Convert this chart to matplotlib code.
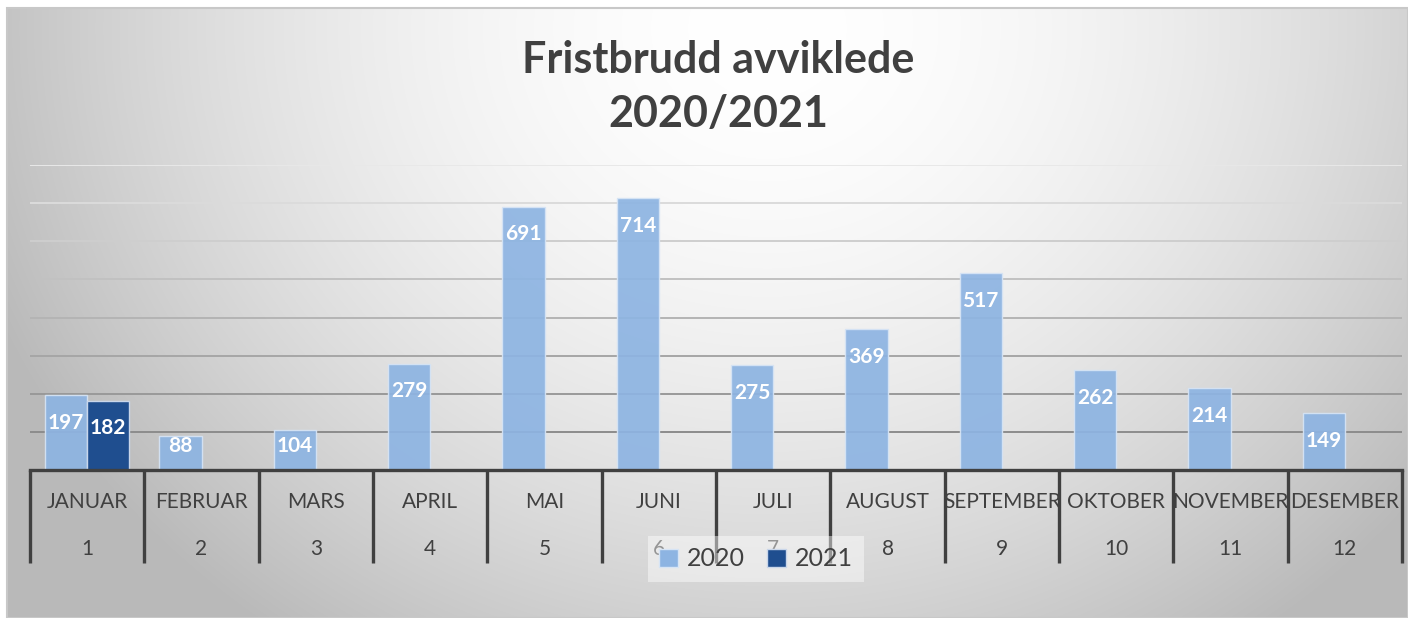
import matplotlib.pyplot as plt
import numpy as np
from matplotlib.patches import Rectangle, Patch

plt.rcParams['font.family'] = ['Lato', 'DejaVu Sans']

months = ['JANUAR', 'FEBRUAR', 'MARS', 'APRIL', 'MAI', 'JUNI', 'JULI',
          'AUGUST', 'SEPTEMBER', 'OKTOBER', 'NOVEMBER', 'DESEMBER']
month_nums = ['1', '2', '3', '4', '5', '6', '7', '8', '9', '10', '11', '12']
values_2020 = [197, 88, 104, 279, 691, 714, 275, 369, 517, 262, 214, 149]
values_2021 = [182]
grid_values = [100, 200, 300, 400, 500, 600, 700, 800]

c2020 = '#8DB4E2'
c2021 = '#1F4E8F'
dark = '#404040'

W, H = 1408, 618
fig = plt.figure(figsize=(W / 100, H / 100), dpi=100)
fig.patch.set_facecolor('white')

# background panel with soft radial gradient
bg = fig.add_axes([7 / W, 0, 1401 / W, 610 / H])
yy, xx = np.mgrid[0:610, 0:1401]
t = np.sqrt(((xx - 760) / 760.0) ** 2 + ((yy - 20) / 680.0) ** 2)
shade = 1.0 - 0.23 * np.clip(t, 0, 1.1) ** 1.8
img = np.dstack([shade, shade, shade])
bg.imshow(img, aspect='auto', extent=(0, 1, 0, 1), origin='upper')
bg.set_xlim(0, 1)
bg.set_ylim(0, 1)
bg.axis('off')
bg.add_patch(Rectangle((0, 0), 1, 1, transform=bg.transAxes, fill=False,
                       edgecolor='#c8c8c8', linewidth=1.5, clip_on=False))

ax = fig.add_axes([30 / W, 1 - 470 / H, 1372 / W, 305 / H])
ax.patch.set_alpha(0)
ax.set_xlim(0, 12)
ax.set_ylim(0, 800)
for s in ax.spines.values():
    s.set_visible(False)
ax.set_xticks([])
ax.set_yticks([])

for i, g in enumerate(grid_values):
    shade_g = 0.55 + 0.36 * i / (len(grid_values) - 1)
    ax.axhline(g, color=str(shade_g), linewidth=1.4, zorder=1)

x = np.arange(12) + 0.5
w = 0.37
ax.bar(x - w / 2, values_2020, w, color=c2020, alpha=0.92,
       edgecolor='#d6e4f5', linewidth=1, zorder=2)
ax.bar(x[:len(values_2021)] + w / 2, values_2021, w, color=c2021,
       edgecolor='#c9d6ea', linewidth=1, zorder=2)

def label_y(v):
    return max(v - 73, 63)

for xi, v in zip(x - w / 2, values_2020):
    ax.text(xi, label_y(v), str(v), ha='center', va='center', color='white',
            fontsize=15, fontweight='bold', zorder=3)
for xi, v in zip(x[:len(values_2021)] + w / 2, values_2021):
    ax.text(xi, label_y(v), str(v), ha='center', va='center', color='white',
            fontsize=15, fontweight='bold', zorder=3)

# multi-level category axis
ax.axhline(0, color=dark, linewidth=2.4, zorder=4, clip_on=False)
tr = ax.get_xaxis_transform()
for k in range(13):
    ax.plot([k, k], [0, -93 / 305], color=dark, linewidth=2.4, transform=tr,
            clip_on=False, zorder=4, solid_capstyle='butt')
for xi, m, n in zip(x, months, month_nums):
    ax.text(xi, -31.5 / 305, m, transform=tr, ha='center', va='center',
            fontsize=15, color=dark)
    ax.text(xi, -79 / 305, n, transform=tr, ha='center', va='center',
            fontsize=15, color=dark)

# title
fig.text(718 / W, 1 - 73 / H, 'Fristbrudd avviklede', ha='center', va='baseline',
         fontsize=31, fontweight='bold', color=dark)
fig.text(718 / W, 1 - 127 / H, '2020/2021', ha='center', va='baseline',
         fontsize=31, fontweight='bold', color=dark)

handles = [Patch(facecolor=c2020, edgecolor='#d6e4f5', label='2020'),
           Patch(facecolor=c2021, edgecolor='#c9d6ea', label='2021')]
leg = fig.legend(handles=handles, loc='center', ncol=2,
                 bbox_to_anchor=(756 / W, 1 - 559 / H), frameon=True,
                 fancybox=False, framealpha=0.45, facecolor='white',
                 edgecolor='none', fontsize=18, handlelength=0.75,
                 handleheight=0.75, handletextpad=0.35, columnspacing=0.9,
                 borderpad=0.45)
for txt in leg.get_texts():
    txt.set_color(dark)
leg.set_zorder(10)

fig.savefig('out.png', dpi=100)
